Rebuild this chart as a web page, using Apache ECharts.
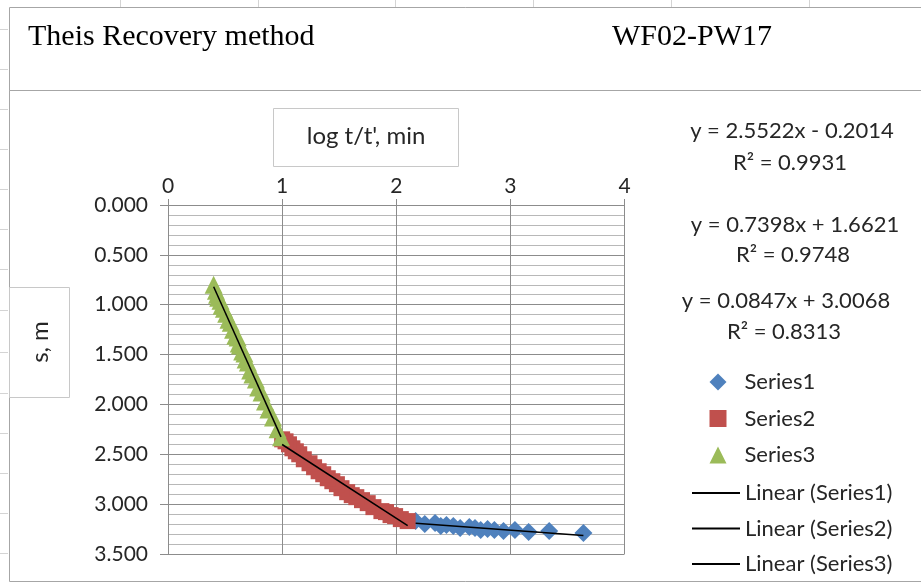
<!DOCTYPE html>
<html><head><meta charset="utf-8">
<script src="https://cdn.jsdelivr.net/npm/echarts@6/dist/echarts.min.js"></script>
<style>html,body{margin:0;padding:0;background:#fff}#c{width:921px;height:585px}</style>
</head><body><div id="c"></div>
<script>
// ---- data ----
const series1X = [3.64, 3.34, 3.16, 3.04, 2.94, 2.86, 2.80, 2.74, 2.69, 2.64, 2.56, 2.50, 2.44, 2.39, 2.34, 2.25, 2.17];
const series1Y = [3.29, 3.27, 3.28, 3.26, 3.27, 3.26, 3.25, 3.26, 3.24, 3.23, 3.24, 3.22, 3.21, 3.22, 3.19, 3.20, 3.17];
const series2X = [2.10, 2.04, 1.99, 1.95, 1.91, 1.87, 1.80, 1.75, 1.70, 1.65, 1.61, 1.57, 1.52, 1.48, 1.44, 1.40, 1.36, 1.32, 1.28, 1.24, 1.19, 1.15, 1.12, 1.09, 1.06, 1.03, 1.00];
const series2Y = [3.17, 3.15, 3.12, 3.11, 3.08, 3.07, 3.03, 2.99, 2.96, 2.93, 2.91, 2.88, 2.84, 2.80, 2.77, 2.74, 2.70, 2.67, 2.63, 2.59, 2.55, 2.50, 2.47, 2.44, 2.40, 2.37, 2.35];
const series3X = [0.99, 0.96, 0.92, 0.88, 0.85, 0.82, 0.79, 0.77, 0.74, 0.72, 0.70, 0.68, 0.67, 0.65, 0.63, 0.62, 0.61, 0.59, 0.57, 0.55, 0.53, 0.51, 0.49, 0.47, 0.46, 0.44, 0.43, 0.42, 0.40];
const series3Y = [2.33, 2.25, 2.13, 2.05, 1.97, 1.88, 1.83, 1.75, 1.70, 1.66, 1.58, 1.55, 1.49, 1.47, 1.41, 1.39, 1.33, 1.31, 1.25, 1.18, 1.15, 1.09, 1.04, 1.01, 0.96, 0.93, 0.90, 0.86, 0.80];
const seriesNames = ['Series1', 'Series2', 'Series3'];
const trendNames = ['Linear (Series1)', 'Linear (Series2)', 'Linear (Series3)'];
const trendSlopes = [0.0847, 0.7398, 2.5522];
const trendIntercepts = [3.0068, 1.6621, -0.2014];
const trendR2 = [0.8313, 0.9748, 0.9931];
const xTickLabels = ['0', '1', '2', '3', '4'];
const yTickLabels = ['0.000', '0.500', '1.000', '1.500', '2.000', '2.500', '3.000', '3.500'];
const titleLeft = 'Theis Recovery method';
const titleRight = 'WF02-PW17';
const xAxisTitle = "log t/t', min";
const yAxisTitle = 's, m';

// ---- build ----
const FONT = 'Lato, "Open Sans", sans-serif';
const TXT = '#262626';
const GRID = '#8c8c8c';
const xs = [series1X, series2X, series3X];
const ys = [series1Y, series2Y, series3Y];
const pairs = (a, b) => a.map((v, i) => [v, b[i]]);
const trend = i => {
  const lo = Math.min(...xs[i]), hi = Math.max(...xs[i]);
  return [[lo, trendSlopes[i] * lo + trendIntercepts[i]], [hi, trendSlopes[i] * hi + trendIntercepts[i]]];
};
const eq = i => {
  const b = trendIntercepts[i];
  return 'y = ' + trendSlopes[i].toFixed(4) + 'x ' + (b < 0 ? '- ' : '+ ') + Math.abs(b).toFixed(4);
};

const chart = echarts.init(document.getElementById('c'), null, {renderer: 'canvas'});
const graphic = [];
// spreadsheet cell lines
[120, 258, 395, 533, 671, 809].forEach(x => graphic.push({type: 'line', shape: {x1: x + .5, y1: 0, x2: x + .5, y2: 7}, style: {stroke: '#d4d4d4', lineWidth: 1}, silent: true}));
[29, 69, 109, 149, 189, 229, 269, 310, 352, 393, 433, 473, 513, 553].forEach(y => graphic.push({type: 'line', shape: {x1: 0, y1: y + .5, x2: 8, y2: y + .5}, style: {stroke: '#d4d4d4', lineWidth: 1}, silent: true}));
// title box and chart area
graphic.push({type: 'rect', shape: {x: 9.5, y: 7.5, width: 940, height: 83}, style: {fill: 'none', stroke: '#a6a6a6', lineWidth: 1}, silent: true});
graphic.push({type: 'rect', shape: {x: 9.5, y: 90.5, width: 940, height: 491}, style: {fill: 'none', stroke: '#a6a6a6', lineWidth: 1}, silent: true});
graphic.push({type: 'text', x: 28, y: 37, style: {text: titleLeft, font: '30px "Liberation Serif", "Times New Roman", serif', fill: '#000', verticalAlign: 'middle'}});
graphic.push({type: 'text', x: 612, y: 37, style: {text: titleRight, font: '30px "Liberation Serif", "Times New Roman", serif', fill: '#000', verticalAlign: 'middle'}});
// axis title boxes
graphic.push({type: 'rect', shape: {x: 273.5, y: 108.5, width: 185, height: 58}, style: {fill: '#fff', stroke: '#c8c8c8', lineWidth: 1}, silent: true});
graphic.push({type: 'text', x: 366, y: 136, style: {text: xAxisTitle, fontFamily: FONT, fontSize: 24, fill: TXT, align: 'center', verticalAlign: 'middle'}});
graphic.push({type: 'rect', shape: {x: 9.5, y: 287.5, width: 60, height: 110}, style: {fill: '#fff', stroke: '#c8c8c8', lineWidth: 1}, silent: true});
graphic.push({type: 'text', x: 40, y: 342, rotation: Math.PI / 2, style: {text: yAxisTitle, fontFamily: FONT, fontSize: 24, fill: TXT, align: 'center', verticalAlign: 'middle'}});
// trendline equations (Series3, Series2, Series1 top to bottom)
const eqPos = [[786, 301, 332], [795, 225, 255], [792, 131, 163]];
[2, 1, 0].forEach(i => {
  const p = eqPos[i];
  graphic.push({type: 'text', x: p[0], y: p[1], style: {text: eq(i), fontFamily: FONT, fontSize: 22, fill: TXT, align: 'center', verticalAlign: 'middle'}});
  graphic.push({type: 'text', x: p[0] - 2, y: p[2], style: {text: 'R² = ' + trendR2[i].toFixed(4), fontFamily: FONT, fontSize: 22, fill: TXT, align: 'center', verticalAlign: 'middle'}});
});

const markerCfg = [
  {symbol: 'diamond', size: 18, color: '#4F81BD'},
  {symbol: 'rect', size: 16, color: '#C0504D'},
  {symbol: 'triangle', size: 18, color: '#9BBB59'}
];
const series = [];
markerCfg.forEach((m, i) => series.push({
  name: seriesNames[i], type: 'scatter', symbol: m.symbol, symbolSize: m.size,
  itemStyle: {color: m.color, opacity: 1}, data: pairs(xs[i], ys[i]), z: 3 + i
}));
trendNames.forEach((n, i) => series.push({
  name: n, type: 'line', symbol: 'none', showSymbol: false,
  lineStyle: {color: '#000', width: 1.5}, itemStyle: {color: '#000'},
  data: trend(i), z: 10
}));

chart.setOption({
  animation: false,
  backgroundColor: '#fff',
  textStyle: {fontFamily: FONT},
  grid: {left: 168, top: 205, right: 296.5, bottom: 31, containLabel: false},
  xAxis: {
    type: 'value', position: 'top', min: 0, max: 4, interval: 1,
    axisLine: {show: true, lineStyle: {color: GRID}},
    axisTick: {show: true, inside: false, length: 6, lineStyle: {color: GRID}},
    axisLabel: {margin: 8, fontSize: 21, color: TXT, fontFamily: FONT, formatter: v => xTickLabels[Math.round(v)]},
    splitLine: {show: true, lineStyle: {color: GRID, width: 1}}
  },
  yAxis: {
    type: 'value', inverse: true, min: 0, max: 3.5, interval: 0.5,
    axisLine: {show: true, lineStyle: {color: GRID}},
    axisTick: {show: true, inside: false, length: 8, lineStyle: {color: GRID}},
    axisLabel: {margin: 20, fontSize: 21, color: TXT, fontFamily: FONT, formatter: v => yTickLabels[Math.round(v / 0.5)]},
    splitLine: {show: true, lineStyle: {color: GRID, width: 1}},
    minorTick: {show: false, splitNumber: 5},
    minorSplitLine: {show: true, lineStyle: {color: '#b8b8b8', width: 1}}
  },
  legend: [
    {
      orient: 'vertical', left: 709.5, top: 371, padding: 0, itemWidth: 17, itemHeight: 17, itemGap: 14.5,
      textStyle: {fontFamily: FONT, fontSize: 22, color: TXT, lineHeight: 22, padding: [0, 0, 0, 13]},
      data: [
        {name: seriesNames[0], icon: 'diamond'},
        {name: seriesNames[1], icon: 'rect'},
        {name: seriesNames[2], icon: 'triangle'}
      ]
    },
    {
      orient: 'vertical', left: 692, top: 482, padding: 0, itemWidth: 48, itemHeight: 2, itemGap: 13.5,
      textStyle: {fontFamily: FONT, fontSize: 22, color: TXT, lineHeight: 22},
      data: trendNames.map(n => ({name: n, icon: 'rect', itemStyle: {color: '#000'}}))
    }
  ],
  graphic: graphic,
  series: series
});
</script>
</body></html>
